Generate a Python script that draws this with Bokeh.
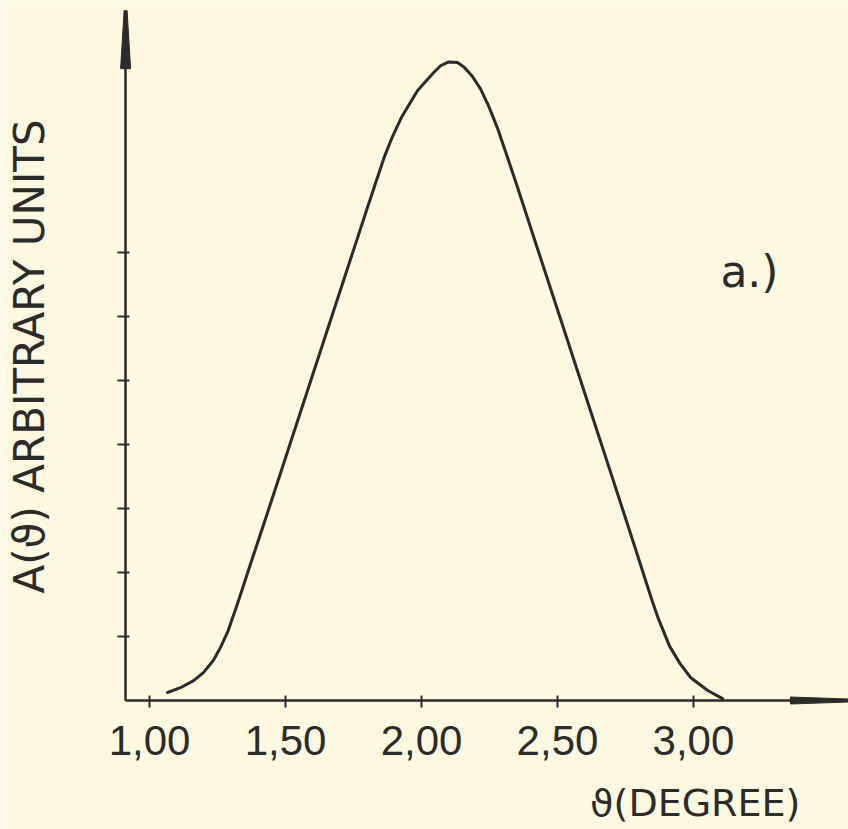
from bokeh.plotting import figure
from bokeh.models import Range1d, LinearAxis, FixedTicker, Label, PolyAnnotation
from bokeh.embed import file_html
from bokeh.resources import INLINE

# Data (theta in degrees, A in arbitrary units)
theta = [1.066, 1.114, 1.162, 1.199, 1.235, 1.261, 1.289, 1.324, 1.361, 1.439,
         1.516, 1.593, 1.670, 1.747, 1.801, 1.826, 1.862, 1.892, 1.926, 1.985,
         2.044, 2.070, 2.100, 2.132, 2.156, 2.186, 2.217, 2.247, 2.279, 2.317,
         2.353, 2.429, 2.513, 2.609, 2.705, 2.789, 2.816, 2.848, 2.869, 2.912,
         2.950, 2.989, 3.051, 3.107]
amp = [0.125, 0.20, 0.31, 0.44, 0.63, 0.83, 1.09, 1.52, 2.00, 3.00,
       4.00, 5.00, 6.00, 7.00, 7.70, 8.02, 8.48, 8.80, 9.11, 9.53,
       9.81, 9.92, 9.98, 9.97, 9.90, 9.76, 9.56, 9.29, 8.95, 8.48,
       8.02, 7.03, 5.94, 4.69, 3.44, 2.34, 1.98, 1.56, 1.30, 0.85,
       0.58, 0.36, 0.16, 0.03]

x_ticks = [1.0, 1.5, 2.0, 2.5, 3.0]
x_tick_labels = ["1,00", "1,50", "2,00", "2,50", "3,00"]
y_ticks = [1, 2, 3, 4, 5, 6, 7]

x_label = "\u03d1(DEGREE)"
y_label = "A(\u03d1) ARBITRARY UNITS"
panel_label = "a.)"

# axis extents (data units)
X_AXIS_START, X_AXIS_END = 0.912, 3.570   # x axis runs from the y axis to the arrow tip
Y_AXIS_END = 10.75                        # top of the y axis
# view window
XV0, XV1 = 0.452, 3.570
YV0, YV1 = -2.016, 10.94

INK = "#2b2b2b"
PAPER = "#fcf9e0"

W, H = 848, 829
p = figure(width=W, height=H, output_backend="svg", toolbar_location=None,
           x_range=Range1d(XV0, XV1), y_range=Range1d(YV0, YV1),
           x_axis_type=None, y_axis_type=None,
           min_border_left=0, min_border_right=0,
           min_border_top=0, min_border_bottom=0)
p.background_fill_color = PAPER
p.border_fill_color = PAPER
p.outline_line_color = None
p.grid.visible = False

xaxis = LinearAxis(ticker=FixedTicker(ticks=x_ticks), fixed_location=0,
                   bounds=(X_AXIS_START, X_AXIS_END),
                   major_label_overrides={t: l for t, l in zip(x_ticks, x_tick_labels)})
xaxis.axis_line_color = INK
xaxis.axis_line_width = 2.5
xaxis.major_tick_line_color = INK
xaxis.major_tick_line_width = 2
xaxis.major_tick_in = 5
xaxis.major_tick_out = 7
xaxis.minor_tick_line_color = None
xaxis.major_label_standoff = 18
xaxis.major_label_text_font = "Liberation Sans"
xaxis.major_label_text_font_size = "42px"
xaxis.major_label_text_color = INK
p.add_layout(xaxis, "below")

yaxis = LinearAxis(ticker=FixedTicker(ticks=y_ticks), fixed_location=X_AXIS_START,
                   bounds=(0, Y_AXIS_END),
                   major_label_overrides={t: "" for t in y_ticks})
yaxis.axis_line_color = INK
yaxis.axis_line_width = 2.5
yaxis.major_tick_line_color = INK
yaxis.major_tick_line_width = 2
yaxis.major_tick_in = 4
yaxis.major_tick_out = 8
yaxis.minor_tick_line_color = None
yaxis.major_label_standoff = 0
yaxis.axis_label = y_label
yaxis.axis_label_standoff = 64
yaxis.axis_label_text_font = "DejaVu Sans"
yaxis.axis_label_text_font_style = "normal"
yaxis.axis_label_text_font_size = "42px"
yaxis.axis_label_text_color = INK
p.add_layout(yaxis, "left")

p.line(theta, amp, line_color=INK, line_width=3, line_join="round", line_cap="round")

# arrow heads at the ends of both axes (sizes in pixels converted to data units)
sx = W / (XV1 - XV0)
sy = H / (YV1 - YV0)
tip_y = Y_AXIS_END + 2 / sy
base_y = Y_AXIS_END - 56 / sy
p.add_layout(PolyAnnotation(
    xs=[X_AXIS_START - 1.5 / sx, X_AXIS_START + 1.5 / sx, X_AXIS_START + 5 / sx, X_AXIS_START - 5 / sx],
    ys=[tip_y, tip_y, base_y, base_y],
    xs_units="data", ys_units="data",
    fill_color=INK, fill_alpha=1, line_color=INK, line_alpha=1, line_width=1))
base_x = X_AXIS_END - 58 / sx
p.add_layout(PolyAnnotation(
    xs=[X_AXIS_END, X_AXIS_END, base_x, base_x],
    ys=[1.5 / sy, -1.5 / sy, -3.5 / sy, 3.5 / sy],
    xs_units="data", ys_units="data",
    fill_color=INK, fill_alpha=1, line_color=INK, line_alpha=1, line_width=1))

p.add_layout(Label(x=3.393, y=-1.60, text=x_label, text_align="right",
                   text_baseline="alphabetic", text_font="DejaVu Sans",
                   text_font_size="38px", text_color=INK))
p.add_layout(Label(x=3.099, y=6.70, text=panel_label, text_align="left",
                   text_baseline="alphabetic", text_font="DejaVu Sans",
                   text_font_size="44px", text_color=INK))

open("out.html", "w").write(file_html(p, INLINE))
